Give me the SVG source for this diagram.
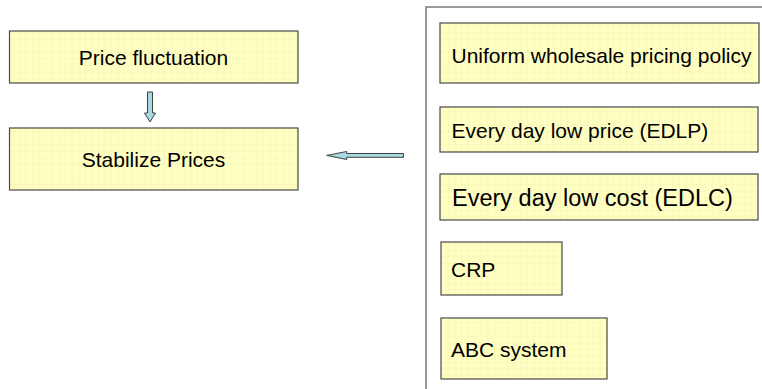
<svg xmlns="http://www.w3.org/2000/svg" width="762" height="389" viewBox="0 0 762 389">
<style>
.box{fill:url(#grid);stroke:#4a4a4a;stroke-width:1.2}
.t{font-family:"Liberation Sans",Arial,sans-serif;font-size:21px;fill:#000}
.arrow{fill:#a9d9e0;stroke:#404040;stroke-width:1}
</style>
<defs>
<pattern id="grid" patternUnits="userSpaceOnUse" width="6.6" height="6.6">
<rect width="6.6" height="6.6" fill="#ffffc4"/>
<path d="M6.6 0V6.6M0 6.6H6.6" stroke="#efefa6" stroke-width="0.8" fill="none"/>
</pattern>
</defs>
<rect x="0" y="0" width="762" height="389" fill="#fff"/>
<g id="container">
<rect x="426" y="7" width="400" height="420" fill="none" stroke="#7a7a7a" stroke-width="1.5"/>
</g>
<g id="node-price-fluctuation">
<rect class="box" x="9.5" y="31" width="288.5" height="52"/>
<text class="t" x="153.5" y="65" text-anchor="middle">Price fluctuation</text>
</g>
<g id="node-stabilize-prices">
<rect class="box" x="9.5" y="128" width="288.5" height="62"/>
<text class="t" x="153.5" y="166.5" text-anchor="middle">Stabilize Prices</text>
</g>
<g id="node-uniform">
<rect class="box" x="440" y="23" width="319" height="60"/>
<text class="t" x="451.5" y="63">Uniform wholesale pricing policy</text>
</g>
<g id="node-edlp">
<rect class="box" x="440" y="107" width="318" height="45"/>
<text class="t" x="451.5" y="137.5">Every day low price (EDLP)</text>
</g>
<g id="node-edlc">
<rect class="box" x="440" y="174" width="318" height="46"/>
<text class="t" x="452" y="206" style="font-size:23.5px">Every day low cost (EDLC)</text>
</g>
<g id="node-crp">
<rect class="box" x="441" y="242" width="121" height="53"/>
<text class="t" x="451" y="277">CRP</text>
</g>
<g id="node-abc">
<rect class="box" x="441" y="318" width="166" height="61"/>
<text class="t" x="451" y="356.5">ABC system</text>
</g>
<g id="connectors">
<path class="arrow" d="M147.5 92H152.5V113H155.5L150 122L144.5 113H147.5Z"/>
<path class="arrow" d="M403.5 153.5V157.3H346.7V159.5L326.7 155.4L346.7 151.5V153.5Z"/>
</g>
</svg>
